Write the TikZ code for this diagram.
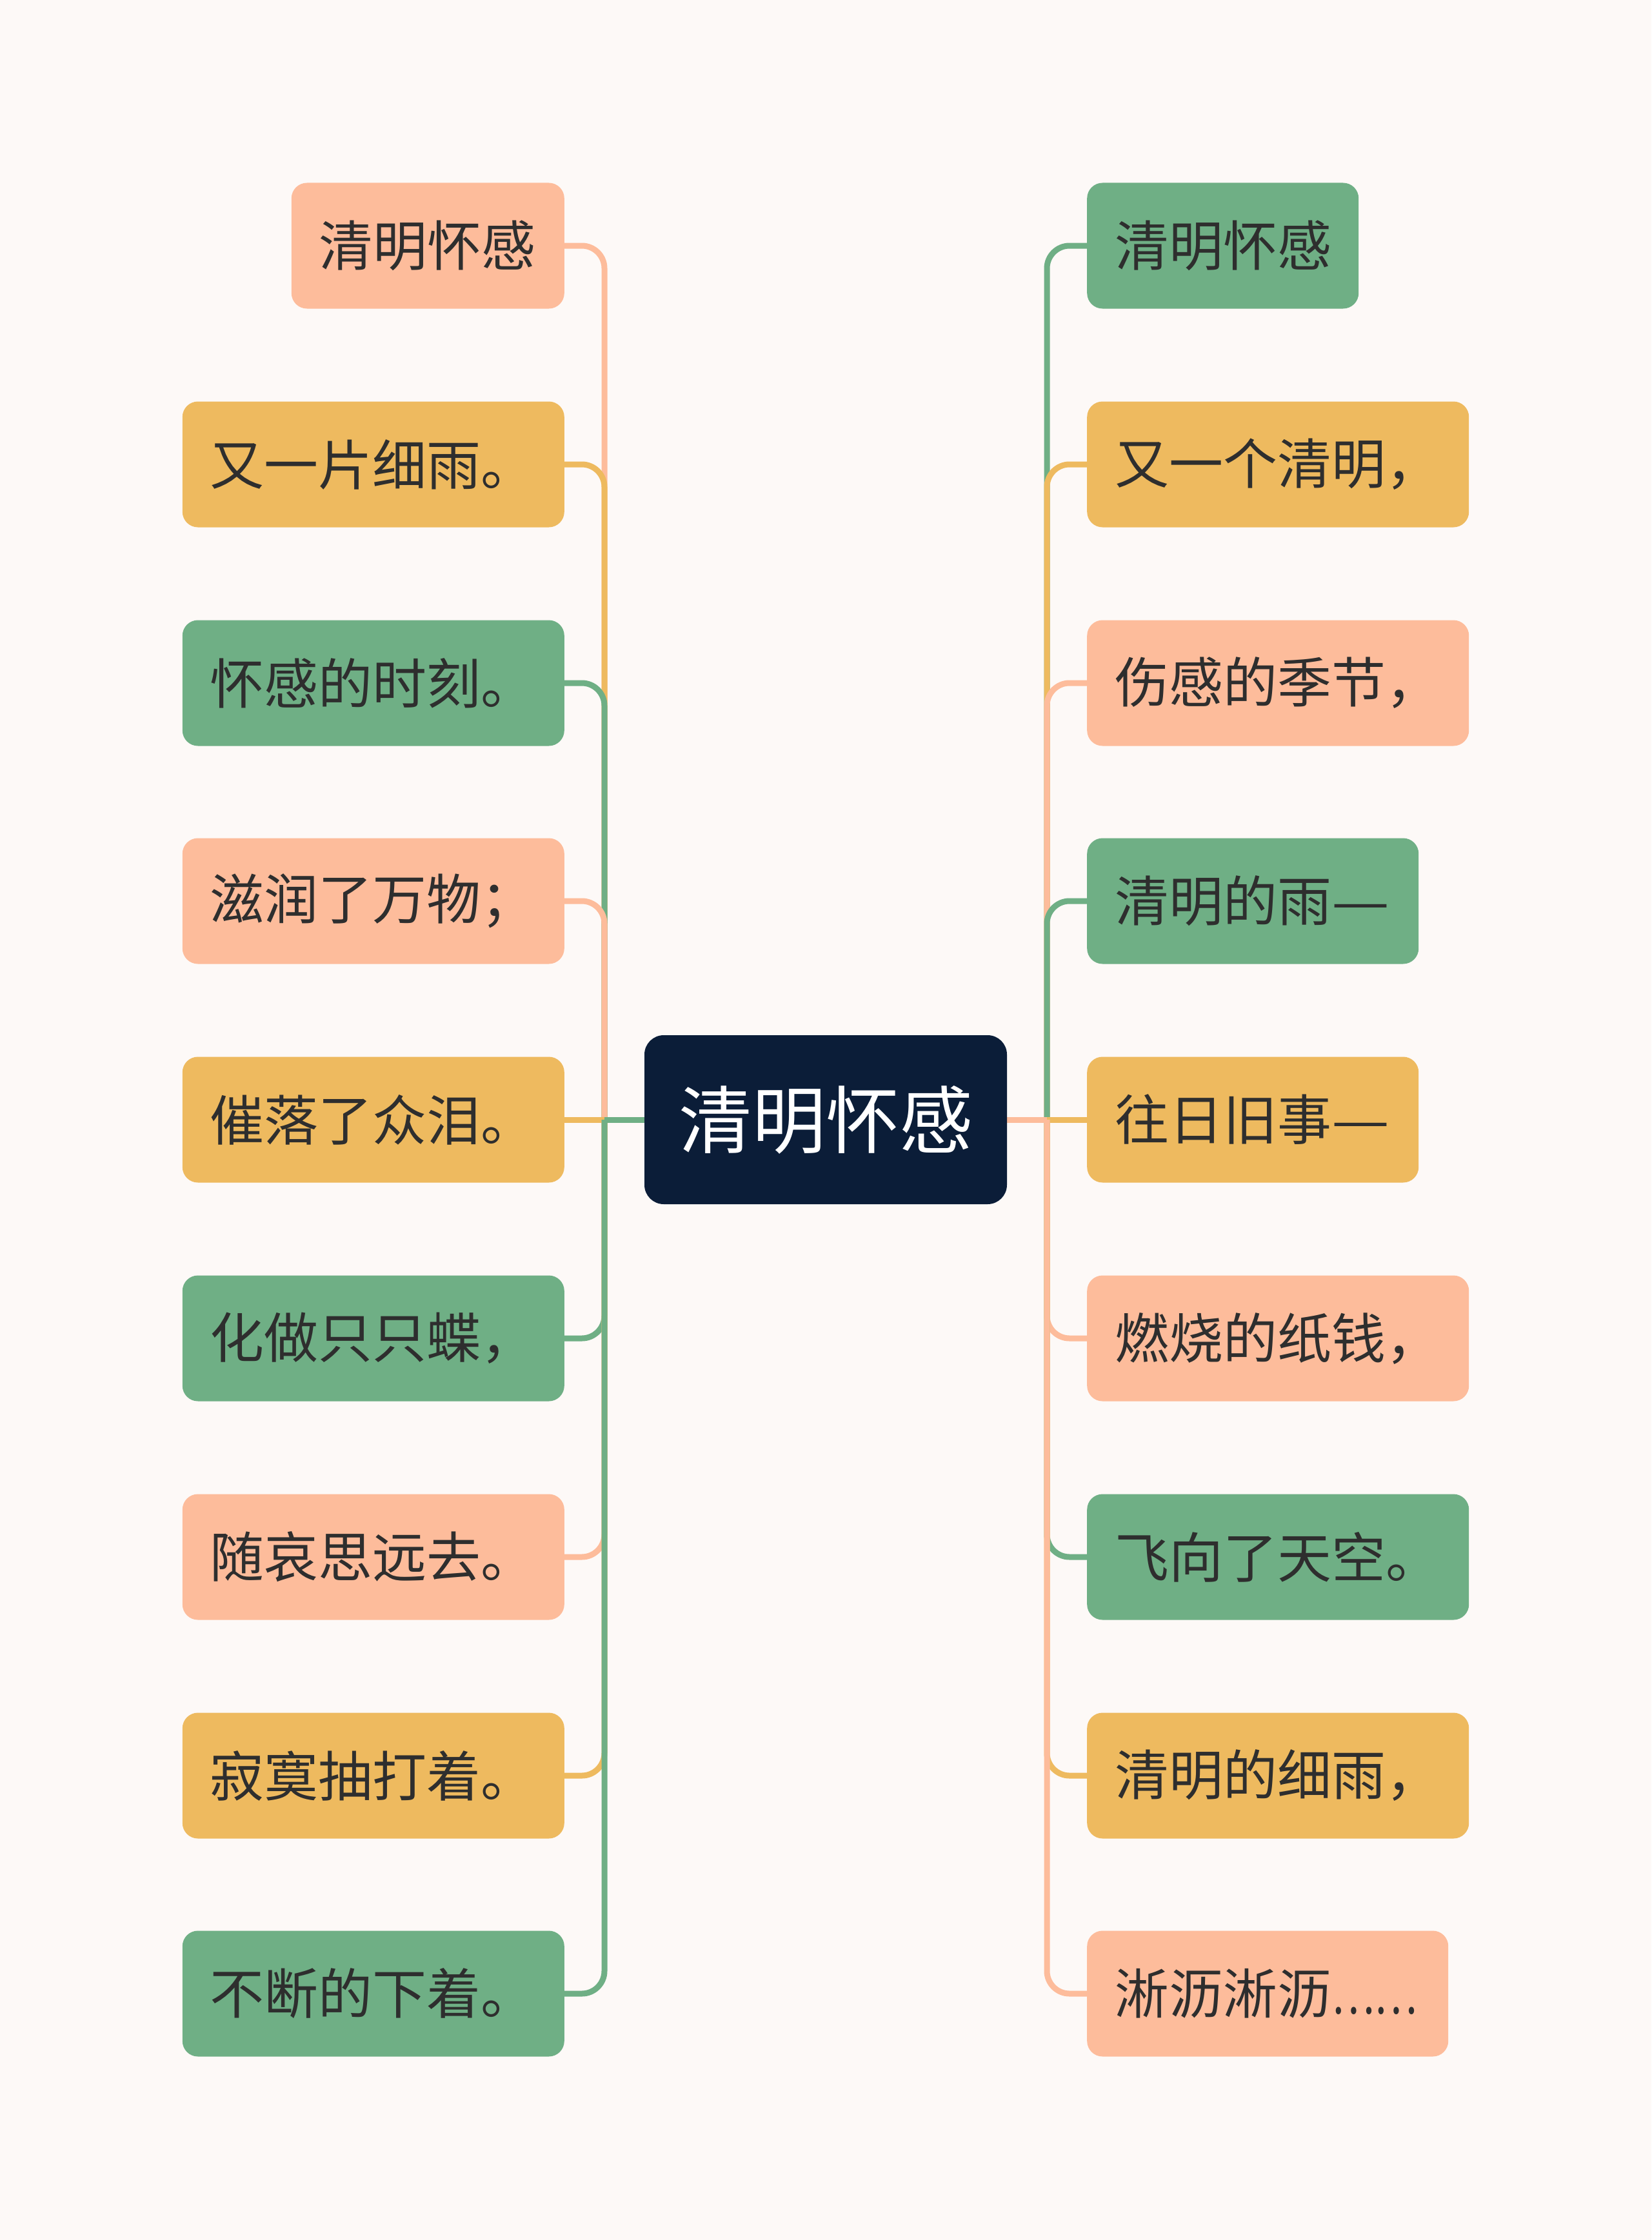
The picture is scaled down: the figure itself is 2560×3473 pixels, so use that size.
\documentclass[tikz,border=0pt]{standalone}
\usepackage{fontspec}
\setmainfont{Noto Sans CJK SC}
\definecolor{bgc}{HTML}{FDF9F7}
\definecolor{sal}{HTML}{FDBC9B}
\definecolor{yel}{HTML}{EEBA5F}
\definecolor{grn}{HTML}{6FAF85}
\definecolor{navy}{HTML}{0B1D38}
\definecolor{txt}{HTML}{2E2E2E}
\pgfdeclarelayer{bgl}
\pgfdeclarelayer{lines}
\pgfsetlayers{bgl,lines,main}
\newcommand\lbranch[2]{%
  \draw[conn,#2] (root.west) -- (tl);
  \draw[conn,#2,rounded corners=35pt] (tl) -- (tl |- #1.east) -- (#1.east);}
\newcommand\rbranch[2]{%
  \draw[conn,#2] (root.east) -- (tr);
  \draw[conn,#2,rounded corners=35pt] (tr) -- (tr |- #1.west) -- (#1.west);}
\newcommand\longdash{\scalebox{1.2}[1]{—}}
\begin{document}
\begin{tikzpicture}[x=1pt,y=-1pt,
  leaf/.style={rounded corners=24pt, inner xsep=43pt, inner ysep=0pt,
    minimum height=195pt, text width=#1, align=left,
    font=\fontsize{84pt}{100pt}\selectfont, text=txt},
  rootbox/.style={rounded corners=30pt, fill=navy, text=white,
    minimum width=562pt, minimum height=262pt, inner sep=0pt,
    font=\fontsize{114pt}{130pt}\selectfont},
  conn/.style={line width=9pt}]
\begin{pgfonlayer}{bgl}
\fill[bgc] (0,0) rectangle (2560,3473);
\end{pgfonlayer}
\useasboundingbox (0,0) rectangle (2560,3473);

\node[rootbox] (root) at (1280,1736) {清明怀感};
\coordinate (tl) at (937,1736);
\coordinate (tr) at (1623,1736);

% left side
\node[leaf=337pt, fill=sal, anchor=east] (l1) at (875,381) {清明怀感};
\node[leaf=506pt, fill=yel, anchor=east] (l2) at (875,720) {又一片细雨。};
\node[leaf=506pt, fill=grn, anchor=east] (l3) at (875,1059) {怀感的时刻。};
\node[leaf=506pt, fill=sal, anchor=east] (l4) at (875,1397) {滋润了万物；};
\node[leaf=506pt, fill=yel, anchor=east] (l5) at (875,1736) {催落了众泪。};
\node[leaf=506pt, fill=grn, anchor=east] (l6) at (875,2075) {化做只只蝶，};
\node[leaf=506pt, fill=sal, anchor=east] (l7) at (875,2414) {随哀思远去。};
\node[leaf=506pt, fill=yel, anchor=east] (l8) at (875,2753) {寂寞抽打着。};
\node[leaf=506pt, fill=grn, anchor=east] (l9) at (875,3091) {不断的下着。};

% right side
\node[leaf=335pt, fill=grn, anchor=west] (r1) at (1685,381) {清明怀感};
\node[leaf=506pt, fill=yel, anchor=west] (r2) at (1685,720) {又一个清明，};
\node[leaf=506pt, fill=sal, anchor=west] (r3) at (1685,1059) {伤感的季节，};
\node[leaf=428pt, fill=grn, anchor=west] (r4) at (1685,1397) {清明的雨\longdash};
\node[leaf=428pt, fill=yel, anchor=west] (r5) at (1685,1736) {往日旧事\longdash};
\node[leaf=506pt, fill=sal, anchor=west] (r6) at (1685,2075) {燃烧的纸钱，};
\node[leaf=506pt, fill=grn, anchor=west] (r7) at (1685,2414) {飞向了天空。};
\node[leaf=506pt, fill=yel, anchor=west] (r8) at (1685,2753) {清明的细雨，};
\node[leaf=474pt, fill=sal, anchor=west] (r9) at (1685,3091) {淅沥淅沥\scalebox{0.75}[1]{……}};

\begin{pgfonlayer}{lines}
\lbranch{l1}{sal}
\lbranch{l2}{yel}
\lbranch{l3}{grn}
\lbranch{l4}{sal}
\draw[conn,yel] (root.west) -- (l5.east);
\lbranch{l6}{grn}
\lbranch{l7}{sal}
\lbranch{l8}{yel}
\lbranch{l9}{grn}
\rbranch{r1}{grn}
\rbranch{r2}{yel}
\rbranch{r3}{sal}
\rbranch{r4}{grn}
\draw[conn,yel] (root.east) -- (r5.west);
\rbranch{r6}{sal}
\rbranch{r7}{grn}
\rbranch{r8}{yel}
\rbranch{r9}{sal}
\end{pgfonlayer}
\end{tikzpicture}
\end{document}
